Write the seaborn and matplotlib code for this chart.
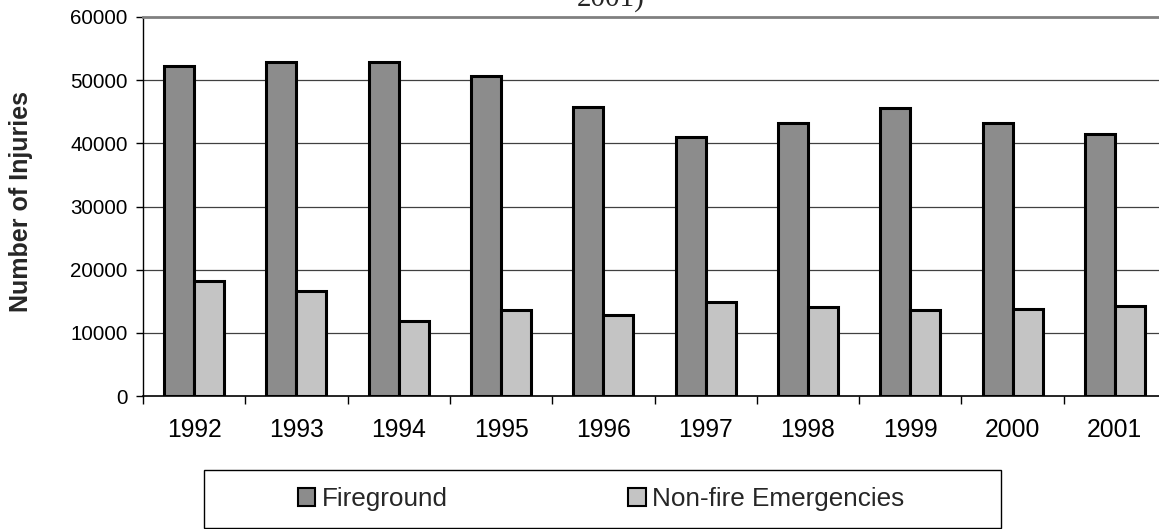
"""Firefighter injuries by type of duty, 1992-2001 (grouped bars)."""
import matplotlib
matplotlib.use("Agg")
import matplotlib.pyplot as plt
import pandas as pd
import seaborn as sns
from matplotlib.patches import Rectangle

YEARS = ["1992", "1993", "1994", "1995", "1996", "1997", "1998", "1999", "2000", "2001"]
FIREGROUND = [52300, 52900, 52900, 50600, 45800, 41000, 43200, 45600, 43150, 41450]
NON_FIRE = [18200, 16700, 11950, 13600, 12750, 14900, 14100, 13600, 13700, 14250]
SERIES = ["Fireground", "Non-fire Emergencies"]
Y_TICKS = [0, 10000, 20000, 30000, 40000, 50000, 60000]

W, H = 1159, 529


def main():
    sns.set_theme(style="white")
    plt.rcParams["font.family"] = ["Liberation Sans", "DejaVu Sans"]

    df = pd.DataFrame({
        "year": YEARS * 2,
        "injuries": FIREGROUND + NON_FIRE,
        "type": [SERIES[0]] * len(YEARS) + [SERIES[1]] * len(YEARS),
    })

    fig = plt.figure(figsize=(W / 100, H / 100), dpi=100)
    # plot area: x 143..1166 px (runs past right edge), y 17..396 px
    ax = fig.add_axes([143 / W, 1 - 396 / H, 1023 / W, 379 / H])

    sns.barplot(data=df, x="year", y="injuries", hue="type", order=YEARS,
                hue_order=SERIES, palette=["#8c8c8c", "#c4c4c4"], saturation=1,
                width=0.587, gap=0, edgecolor="black", linewidth=2.2,
                errorbar=None, ax=ax, legend=False)

    ax.set_xlim(-0.5, len(YEARS) - 0.5)
    ax.set_ylim(0, 60000)
    ax.set_yticks(Y_TICKS)
    ax.set_yticklabels([str(t) for t in Y_TICKS], fontsize=14.8)
    ax.set_xlabel("")
    ax.set_ylabel("")
    for t in Y_TICKS[1:-1]:
        ax.axhline(t, color="#404040", lw=0.9, zorder=0)

    ax.tick_params(axis="x", length=0, pad=16, labelsize=17.8, colors="black")
    ax.set_xticks([i - 0.5 for i in range(len(YEARS) + 1)], minor=True)
    ax.tick_params(axis="x", which="minor", length=6, width=1, color="black",
                   direction="out", bottom=True)
    ax.tick_params(axis="y", length=5, width=1, color="black", direction="out",
                   left=True, pad=6, labelcolor="black")

    ax.spines["left"].set_color("black")
    ax.spines["left"].set_linewidth(1)
    ax.spines["bottom"].set_color("black")
    ax.spines["bottom"].set_linewidth(1.2)
    ax.spines["top"].set_color("#808080")
    ax.spines["top"].set_linewidth(2)
    ax.spines["right"].set_visible(False)

    fig.text(21 / W, 1 - 201 / H, "Number of Injuries", rotation=90,
             ha="center", va="center", fontsize=18, fontweight="bold")
    # title tail clipped by the top edge of the image, as in the source
    fig.text(611 / W, 1 - 6 / H, "2001)", ha="center", va="baseline",
             fontsize=21, family=["Liberation Serif", "DejaVu Serif"])

    # legend box
    fig.patches.append(Rectangle((204 / W, 1 - 528 / H), 797 / W, 58 / H,
                                 transform=fig.transFigure, fill=False,
                                 edgecolor="black", lw=1))
    handles = [Rectangle((0, 0), 1, 1, facecolor=c, edgecolor="black", lw=1.5)
               for c in ["#8c8c8c", "#c4c4c4"]]
    fig.legend(handles, SERIES, loc="center", bbox_to_anchor=(601 / W, 1 - 499 / H),
               ncol=2, frameon=False, fontsize=18.8, handlelength=0.68,
               handleheight=0.7, handletextpad=0.25, columnspacing=6.9,
               borderpad=0, borderaxespad=0)

    fig.savefig("out.png", dpi=100)
    plt.close(fig)


if __name__ == "__main__":
    main()
